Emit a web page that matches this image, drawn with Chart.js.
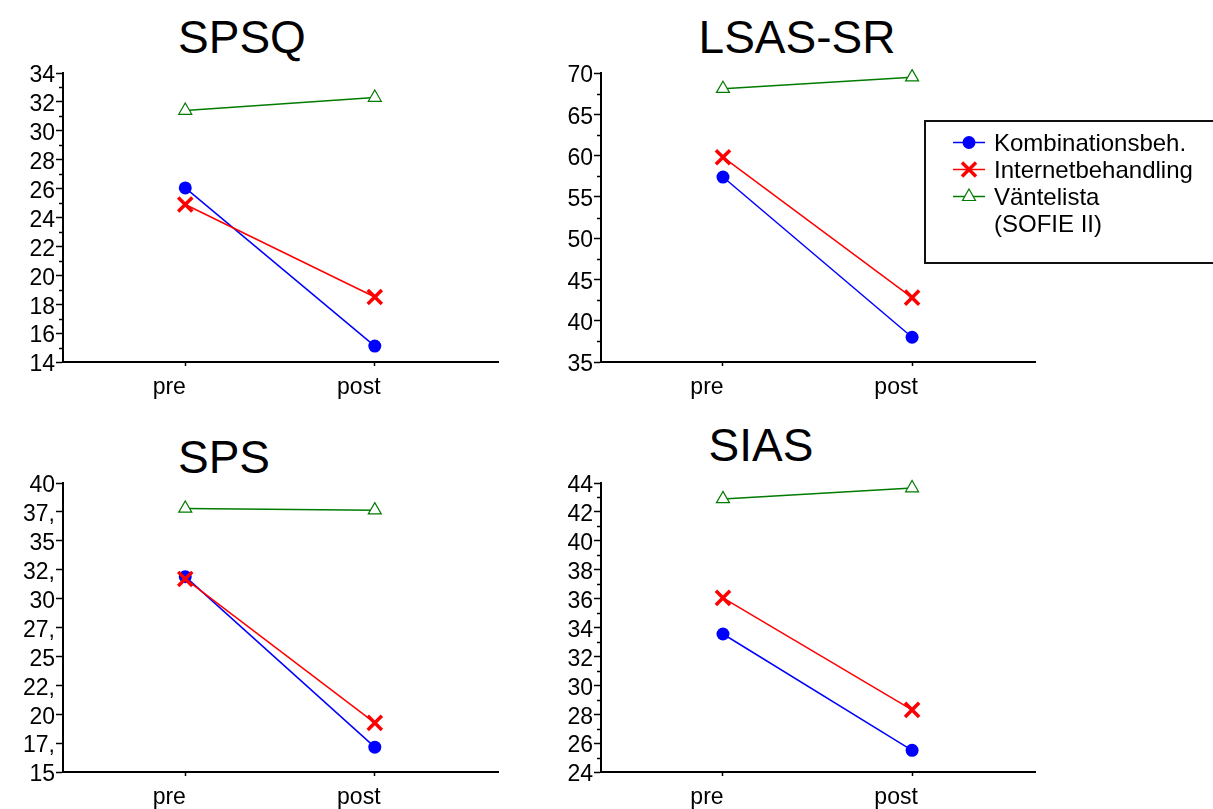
<!DOCTYPE html>
<html>
<head>
<meta charset="utf-8">
<script src="https://cdn.jsdelivr.net/npm/chart.js@4.4.1/dist/chart.umd.min.js"></script>
<style>
body { margin: 0; background: #fff; width: 1213px; height: 809px; overflow: hidden; position: relative; font-family: "Liberation Sans", Arial, sans-serif; }
canvas { position: absolute; }
.title { position: absolute; width: 400px; text-align: center; font-size: 46px; line-height: 46px; color: #000; }
#legend { position: absolute; left: 924px; top: 120px; width: 300px; height: 144px; box-sizing: border-box; border: 2px solid #111; }
.row { position: absolute; left: 27px; width: 260px; height: 27px; line-height: 27px; font-size: 24px; white-space: nowrap; color: #000; }
.row svg { position: absolute; left: 0; top: 0; }
.row span { position: absolute; left: 41px; }
</style>
</head>
<body>
<div class="title" style="left:42px;top:14px">SPSQ</div>
<div class="title" style="left:597px;top:14px">LSAS-SR</div>
<div class="title" style="left:24px;top:434px">SPS</div>
<div class="title" style="left:561px;top:422px">SIAS</div>

<canvas id="spsq" width="530" height="410" style="left:0;top:0"></canvas>
<canvas id="lsas" width="683" height="410" style="left:530px;top:0"></canvas>
<canvas id="sps" width="530" height="399" style="left:0;top:410px"></canvas>
<canvas id="sias" width="683" height="399" style="left:530px;top:410px"></canvas>

<div id="legend"></div>

<script>
// mätpunkter
const timepoints = ['pre', 'post'];
const groupNames = ['Kombinationsbeh.', 'Internetbehandling', 'Väntelista'];
const legendNote = '(SOFIE II)';

const spsqKomb = [26.05, 15.1];
const spsqInternet = [24.9, 18.5];
const spsqWait = [31.4, 32.3];

const lsasKomb = [57.4, 38.0];
const lsasInternet = [59.8, 42.8];
const lsasWait = [68.1, 69.5];

const spsKomb = [31.9, 17.15];
const spsInternet = [31.7, 19.25];
const spsWait = [37.8, 37.65];

const siasKomb = [33.55, 25.5];
const siasInternet = [36.05, 28.3];
const siasWait = [42.9, 43.65];

// SPS-axelns etiketter är avkortade i originalet
const spsTickLabels = ['15', '17,', '20', '22,', '25', '27,', '30', '32,', '35', '37,', '40'];

const font = '"Liberation Sans", Arial, sans-serif';

// små mellanstreck på y-axeln
const minorTicks = {
    id: 'minorTicks',
    afterDraw(chart, args, opts) {
        if (!opts.step) return;
        const s = chart.scales.y;
        const ctx = chart.ctx;
        ctx.save();
        ctx.strokeStyle = '#000';
        ctx.lineWidth = 1.5;
        for (let v = s.min; v <= s.max + 1e-9; v += opts.step) {
            const r = (v - s.min) / opts.major;
            if (Math.abs(r - Math.round(r)) < 1e-6) continue;
            const y = Math.round(s.getPixelForValue(v)) + 0.5;
            ctx.beginPath();
            ctx.moveTo(chart.chartArea.left, y);
            ctx.lineTo(chart.chartArea.left - 4, y);
            ctx.stroke();
        }
        ctx.restore();
    }
};

function points(values) {
    return values.map((v, i) => ({ x: i + 1, y: v }));
}

function makeChart(id, komb, internet, wait, yMin, yMax, yStep, minorStep, tickLabels, axisWidth, rightPad, xHeight) {
    new Chart(document.getElementById(id), {
        type: 'line',
        data: {
            datasets: [
                {
                    label: groupNames[0], data: points(komb), order: 2, clip: false,
                    borderColor: '#0000ff', backgroundColor: '#0000ff', borderWidth: 1.5,
                    pointStyle: 'circle', pointRadius: 6.5, pointBorderWidth: 0
                },
                {
                    label: groupNames[1], data: points(internet), order: 1, clip: false,
                    borderColor: '#ff0000', backgroundColor: '#ff0000', borderWidth: 1.5,
                    pointStyle: 'crossRot', pointRadius: 10, pointBorderWidth: 3.5
                },
                {
                    label: groupNames[2], data: points(wait), order: 3, clip: false,
                    borderColor: '#007a00', backgroundColor: '#ffffff', borderWidth: 1.5,
                    pointStyle: 'triangle', pointRadius: 7.5, pointBorderWidth: 1.2
                }
            ]
        },
        options: {
            responsive: false,
            animation: false,
            devicePixelRatio: 1,
            layout: { padding: { top: 73, right: rightPad, bottom: 0, left: 0 } },
            plugins: {
                legend: { display: false },
                tooltip: { enabled: false },
                minorTicks: { step: minorStep, major: yStep }
            },
            scales: {
                x: {
                    type: 'linear',
                    min: 0.355,
                    max: 2.65,
                    afterBuildTicks: (scale) => { scale.ticks = timepoints.map((t, i) => ({ value: i + 1 })); },
                    afterFit: (scale) => { scale.height = xHeight; },
                    border: { display: true, color: '#000', width: 2 },
                    grid: { display: true, drawOnChartArea: false, drawTicks: true, tickLength: 4, tickColor: '#000', tickWidth: 1.5 },
                    ticks: {
                        color: '#000',
                        font: { family: font, size: 23 },
                        padding: 8,
                        labelOffset: -16,
                        maxRotation: 0,
                        autoSkip: false,
                        callback: (v) => timepoints[v - 1] || ''
                    }
                },
                y: {
                    min: yMin,
                    max: yMax,
                    afterFit: (scale) => { scale.width = axisWidth; },
                    border: { display: true, color: '#000', width: 2 },
                    grid: { display: true, drawOnChartArea: false, drawTicks: true, tickLength: 7, tickColor: '#000', tickWidth: 1.5 },
                    ticks: {
                        stepSize: yStep,
                        color: '#000',
                        font: { family: font, size: 23 },
                        padding: 1,
                        labelOffset: 3,
                        autoSkip: false,
                        callback: (v, i) => tickLabels ? tickLabels[i] : String(v)
                    }
                }
            }
        },
        plugins: [minorTicks]
    });
}

makeChart('spsq', spsqKomb, spsqInternet, spsqWait, 14, 34, 2, 1, null, 63, 32, 48);
makeChart('lsas', lsasKomb, lsasInternet, lsasWait, 35, 70, 5, 2.5, null, 71, 178, 48);
makeChart('sps', spsKomb, spsInternet, spsWait, 15, 40, 2.5, 0, spsTickLabels, 63, 32, 37);
makeChart('sias', siasKomb, siasInternet, siasWait, 24, 44, 2, 1, null, 71, 178, 37);

// legend i egen ruta
const legendEl = document.getElementById('legend');
const markers = [
    '<circle cx="16" cy="13.5" r="6.5" fill="#0000ff"/>',
    '<path d="M9 6.5 L23 20.5 M23 6.5 L9 20.5" stroke="#ff0000" stroke-width="3.5"/>',
    '<path d="M16 6 L22.5 17.5 L9.5 17.5 Z" fill="#fff" stroke="#007a00" stroke-width="1.2"/>'
];
const lineColors = ['#0000ff', '#ff0000', '#007a00'];
groupNames.concat([legendNote]).forEach((name, i) => {
    const row = document.createElement('div');
    row.className = 'row';
    row.style.top = (6.5 + i * 27) + 'px';
    let html = '';
    if (i < groupNames.length) {
        html += '<svg width="32" height="27"><line x1="0" y1="13.5" x2="32" y2="13.5" stroke="' + lineColors[i] + '" stroke-width="1.5"/>' + markers[i] + '</svg>';
    }
    html += '<span>' + name + '</span>';
    row.innerHTML = html;
    legendEl.appendChild(row);
});
</script>
</body>
</html>
